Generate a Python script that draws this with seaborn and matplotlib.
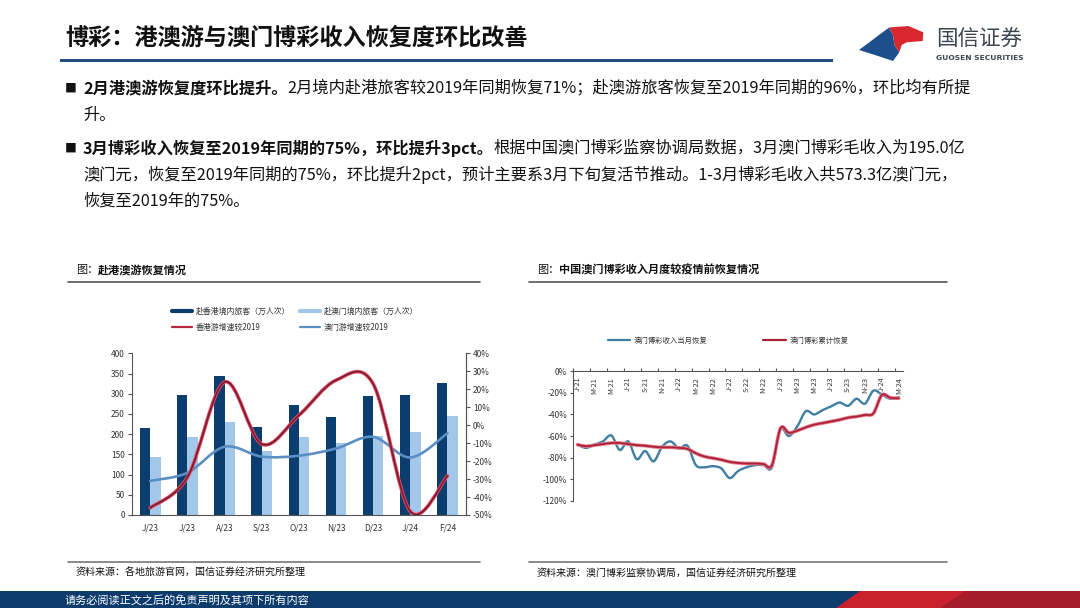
import numpy as np
import pandas as pd
import matplotlib
matplotlib.use("Agg")
import matplotlib.pyplot as plt
from matplotlib.path import Path
from matplotlib.patches import PathPatch, Polygon, Rectangle
from matplotlib.lines import Line2D
import seaborn as sns

# ---------------- data ----------------
# left chart (Jun-23 .. Feb-24)
hk_months = ["J/23", "J/23", "A/23", "S/23", "O/23", "N/23", "D/23", "J/24", "F/24"]
hk_visitors = [214, 298, 344, 217, 271, 242, 294, 298, 326]       # 赴香港境内旅客（万人次）
mo_visitors = [143, 192, 231, 158, 194, 177, 196, 206, 244]       # 赴澳门境内旅客（万人次）
hk_vs2019 = [-46, -29, 24, -10.5, 5.5, 25, 23, -48, -28.3]        # 香港游增速较2019 (%)
mo_vs2019 = [-31, -26.5, -12, -17.5, -17, -13, -6.5, -18, -4.5]   # 澳门游增速较2019 (%)

# right chart (Jan-21 .. Mar-24, monthly)
ggr_tick_labels = ["J-21", "M-21", "M-21", "J-21", "S-21", "N-21",
                   "J-22", "M-22", "M-22", "J-22", "S-22", "N-22",
                   "J-23", "M-23", "M-23", "J-23", "S-23", "N-23",
                   "J-24", "M-24"]
ggr_monthly = [-68, -71, -68, -65, -59.5, -73, -65, -81.5, -74, -83.5,
               -70, -65, -71.5, -69, -87, -89, -88, -90, -99, -92.5,
               -89, -87, -87, -89, -54, -60, -51, -37, -40, -36,
               -32.5, -29, -32, -25.5, -30, -18, -21.5, -25.5, -24]
ggr_cumulative = [-68, -69.5, -68.5, -67.5, -66.5, -66.5, -67.5, -68.5, -69, -70,
                  -70.5, -70.5, -71, -72, -76, -79, -80.5, -82, -84, -85,
                  -85.5, -85.5, -86, -87, -53, -57, -55, -52, -49.5, -48,
                  -46.5, -45, -43, -42, -40.5, -39, -22, -24.5, -25]

# ---------------- style ----------------
sns.set_theme(style="white")
plt.rcParams["font.family"] = ["Noto Sans CJK SC", "DejaVu Sans"]
plt.rcParams["axes.unicode_minus"] = False

W, H = 1080, 608
fig = plt.figure(figsize=(W / 100, H / 100), dpi=100)
fig.patch.set_facecolor("white")

def fx(x):
    return x / W

def fy(y):
    return 1 - y / H

# background axes in pixel coordinates
bg = fig.add_axes([0, 0, 1, 1], zorder=0)
bg.set_xlim(0, W)
bg.set_ylim(H, 0)
bg.axis("off")

TXT = "#111111"

# title
bg.text(65, 38, "博彩：港澳游与澳门博彩收入恢复度环比改善", fontsize=16.7,
        fontweight="bold", color=TXT, va="center", ha="left")
bg.add_patch(Rectangle((60, 58.5), 773, 3, color="#1f4f7f", lw=0))

# logo
blue_logo = [(859, 50), (889, 27.5), (893, 35), (894.5, 45), (899.3, 52.3), (893, 61), (878, 56)]
red_logo = [(889, 27.5), (908.3, 26), (923.3, 32.3), (922.7, 41), (906.7, 42.3),
            (901.7, 45), (899.3, 52.3), (894.5, 45), (893, 35)]
bg.add_patch(Polygon(blue_logo, closed=True, color="#1d4f8c", lw=0))
bg.add_patch(Polygon(red_logo, closed=True, color="#d7282f", lw=0))
bg.text(936, 39, "国信证券", fontsize=15.5, color="#3c4650", va="center", ha="left")
bg.text(936, 58.3, "GUOSEN SECURITIES", fontsize=5.4, color="#3c4650",
        fontweight="bold", va="center", ha="left", family="DejaVu Sans")

# bullet paragraphs
FS = 11.7
def bullet_line(y, bold, normal, square=True):
    if square:
        bg.text(65, y, "■", fontsize=8.5, color=TXT, va="center", ha="left")
    if bold:
        t = bg.text(83, y, bold, fontsize=FS, fontweight="bold", color=TXT, va="center", ha="left")
        bg.annotate(normal, xy=(1, 0.5), xycoords=t, fontsize=FS, color=TXT,
                    va="center", ha="left")
    else:
        bg.text(83, y, normal, fontsize=FS, color=TXT, va="center", ha="left")

bullet_line(88, "2月港澳游恢复度环比提升。",
            "2月境内赴港旅客较2019年同期恢复71%；赴澳游旅客恢复至2019年同期的96%，环比均有所提")
bullet_line(115, None, "升。", square=False)
bullet_line(148, "3月博彩收入恢复至2019年同期的75%，环比提升3pct。",
            "根据中国澳门博彩监察协调局数据，3月澳门博彩毛收入为195.0亿")
bullet_line(175, None, "澳门元，恢复至2019年同期的75%，环比提升2pct，预计主要系3月下旬复活节推动。1-3月博彩毛收入共573.3亿澳门元，",
            square=False)
bullet_line(201, None, "恢复至2019年的75%。", square=False)

# chart titles and frames
for x0, x1, title in [(68, 480, "赴港澳游恢复情况"), (529, 947, "中国澳门博彩收入月度较疫情前恢复情况")]:
    t = bg.text(x0 + 8, 270, "图：", fontsize=8, color=TXT, va="center", ha="left")
    bg.annotate(title, xy=(1, 0.5), xycoords=t, fontsize=8, fontweight="bold",
                color=TXT, va="center", ha="left")
    bg.plot([x0, x1], [281.5, 281.5], color="#555555", lw=1.2)
    bg.plot([x0, x1], [562, 562], color="#777777", lw=1.2)

bg.text(76, 573, "资料来源：各地旅游官网，国信证券经济研究所整理", fontsize=7.2,
        color=TXT, va="center", ha="left")
bg.text(537, 573, "资料来源：澳门博彩监察协调局，国信证券经济研究所整理", fontsize=7.2,
        color=TXT, va="center", ha="left")

# footer
bg.add_patch(Rectangle((0, 591), W, 17, color="#0c3b6c", lw=0))
bg.add_patch(Polygon([(836, 608), (860, 591), (W, 591), (W, 608)], closed=True, color="#c8202c", lw=0))
bg.add_patch(Polygon([(940, 608), (965, 591), (W, 591), (W, 608)], closed=True, color="#a81c2a", lw=0))
bg.text(65, 600, "请务必阅读正文之后的免责声明及其项下所有内容", fontsize=8,
        color="white", va="center", ha="left")

# ---------------- smooth line helper ----------------
def smooth_path(x, y, k=1 / 6):
    x = np.asarray(x, float)
    y = np.asarray(y, float)
    n = len(x)
    verts = [(x[0], y[0])]
    codes = [Path.MOVETO]
    for i in range(n - 1):
        i0 = max(i - 1, 0)
        i3 = min(i + 2, n - 1)
        c1 = (x[i] + (x[i + 1] - x[i0]) * k, y[i] + (y[i + 1] - y[i0]) * k)
        c2 = (x[i + 1] - (x[i3] - x[i]) * k, y[i + 1] - (y[i3] - y[i]) * k)
        verts += [c1, c2, (x[i + 1], y[i + 1])]
        codes += [Path.CURVE4] * 3
    return Path(verts, codes)

def add_smooth(ax, x, y, color, lw, z=5):
    ax.add_patch(PathPatch(smooth_path(x, y), facecolor="none", edgecolor=color,
                           lw=lw, capstyle="round", joinstyle="round", zorder=z))

AX_C = "#555555"
TICK_C = "#333333"

# ---------------- left chart ----------------
DARK = "#0b3d6e"
LIGHT = "#a3c7e9"
axL = fig.add_axes([fx(131.7), fy(515), fx(334.3), (515 - 353.3) / H], zorder=2)
idx = list(range(len(hk_months)))
df = pd.DataFrame({
    "idx": idx * 2,
    "value": hk_visitors + mo_visitors,
    "series": ["赴香港境内旅客（万人次）"] * len(idx) + ["赴澳门境内旅客（万人次）"] * len(idx),
})
sns.barplot(data=df, x="idx", y="value", hue="series", palette=[DARK, LIGHT],
            width=0.556, gap=0, saturation=1, linewidth=0, legend=False, ax=axL)
axL.set_xlim(-0.5, len(idx) - 0.5)
axL.set_ylim(0, 400)
axL.set_yticks(np.arange(0, 401, 50))
axL.set_xticks(idx, labels=hk_months)
axL.set_xlabel("")
axL.set_ylabel("")
axL.tick_params(axis="y", direction="out", length=3, width=0.8, color=AX_C,
                labelsize=6, labelcolor=TICK_C, pad=2, left=True)
axL.tick_params(axis="x", length=0, labelsize=6, labelcolor=TICK_C, pad=6)
for s in ["left", "bottom", "right"]:
    axL.spines[s].set_color(AX_C)
    axL.spines[s].set_linewidth(0.8)
axL.spines["top"].set_visible(False)

axL2 = axL.twinx()
axL2.set_ylim(-50, 40)
yt = np.arange(-50, 41, 10)
axL2.set_yticks(yt, labels=[f"{v}%" for v in yt])
axL2.tick_params(axis="y", direction="out", length=3, width=0.8, color=AX_C,
                 labelsize=6, labelcolor=TICK_C, pad=2, right=True)
for s in ["top", "left", "bottom"]:
    axL2.spines[s].set_visible(False)
axL2.spines["right"].set_color(AX_C)
axL2.spines["right"].set_linewidth(0.8)
axL2.grid(False)
add_smooth(axL2, idx, mo_vs2019, "#5b8ec4", 1.9, z=4)
add_smooth(axL2, idx, hk_vs2019, "#e04a63", 2.6, z=5)
add_smooth(axL2, idx, hk_vs2019, "#7a1c30", 1.2, z=6)

handlesL = [Line2D([], [], color=DARK, lw=3),
            Line2D([], [], color="#b3283f", lw=1.6),
            Line2D([], [], color=LIGHT, lw=3),
            Line2D([], [], color="#5b8ec4", lw=1.6)]
labelsL = ["赴香港境内旅客（万人次）", "香港游增速较2019", "赴澳门境内旅客（万人次）", "澳门游增速较2019"]
fig.legend(handlesL, labelsL, loc="center", bbox_to_anchor=(fx(295), fy(319.5)),
           ncol=2, frameon=False, fontsize=5.7, handlelength=2.5, handletextpad=0.5,
           columnspacing=1.2, labelspacing=0.9, labelcolor="#333333")

# ---------------- right chart ----------------
axR = fig.add_axes([fx(573.3), fy(500.7), fx(903 - 573.3), (500.7 - 371.3) / H], zorder=2)
n = len(ggr_monthly)
mx = np.arange(n)
axR.set_xlim(-0.5, n - 0.5)
axR.set_ylim(-120, 0)
ytR = np.arange(-120, 1, 20)
axR.set_yticks(ytR, labels=[f"{v}%" for v in ytR])
axR.spines["bottom"].set_position(("data", 0))
axR.spines["top"].set_visible(False)
axR.spines["right"].set_visible(False)
for s in ["left", "bottom"]:
    axR.spines[s].set_color(AX_C)
    axR.spines[s].set_linewidth(0.8)
axR.set_xticks(np.arange(-0.5, n - 0.5, 2))
axR.set_xticklabels([])
axR.set_xticks(np.arange(0, n, 2), labels=ggr_tick_labels, minor=True)
axR.tick_params(axis="x", which="major", direction="in", length=2.5, width=0.8,
                color=AX_C, bottom=True)
axR.tick_params(axis="x", which="minor", length=0, labelsize=5.3,
                labelcolor=TICK_C, pad=4, labelrotation=90)
for lab in axR.get_xticklabels(minor=True):
    lab.set_va("top")
    lab.set_ha("center")
axR.tick_params(axis="y", direction="out", length=2.5, width=0.8, color=AX_C,
                labelsize=6, labelcolor=TICK_C, pad=2, left=True)
axR.grid(False)
add_smooth(axR, mx, ggr_monthly, "#3f7ea3", 1.7, z=4)
add_smooth(axR, mx, ggr_cumulative, "#ea7a8a", 2.6, z=5)
add_smooth(axR, mx, ggr_cumulative, "#a8223b", 1.3, z=6)

handlesR = [Line2D([], [], color="#3f7ea3", lw=1.6),
            Line2D([], [], color="#a8223b", lw=1.6)]
labelsR = ["澳门博彩收入当月恢复", "澳门博彩累计恢复"]
fig.legend(handlesR, labelsR, loc="center", bbox_to_anchor=(fx(728), fy(341)),
           ncol=2, frameon=False, fontsize=5.3, handlelength=3.1, handletextpad=0.5,
           columnspacing=7.5, labelcolor="#333333")

fig.savefig("out.png", dpi=100)
